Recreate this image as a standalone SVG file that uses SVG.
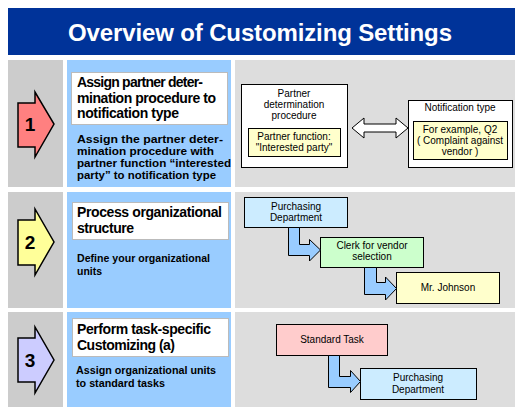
<svg xmlns="http://www.w3.org/2000/svg" width="527" height="407" viewBox="0 0 527 407">
<style>
.lg{fill:#CCCCCC}
.bl{fill:#99CCFF}
.rg{fill:#DDDDDD}
.wb{fill:#FFFFFF;stroke:#BBBBBB;stroke-width:1}
.arr{stroke:#000;stroke-width:1.5;stroke-linejoin:miter}
.n{font-family:"Liberation Sans",Arial,sans-serif;font-weight:bold;font-size:19px;fill:#000;text-anchor:middle}
.h{font-family:"Liberation Sans",Arial,sans-serif;font-weight:bold;font-size:14px;fill:#000}
.d{font-family:"Liberation Sans",Arial,sans-serif;font-weight:bold;font-size:11px;fill:#000}
.s{font-family:"Liberation Sans",Arial,sans-serif;font-size:10px;fill:#000;text-anchor:middle}
.box{stroke:#000;stroke-width:1}
.con{fill:#99CCFF;stroke:#000;stroke-width:1}
</style>
<rect x="0" y="0" width="527" height="407" fill="#FFFFFF"/>
<g id="title">
<rect x="8" y="8" width="507" height="47" fill="#003399"/>
<text x="260" y="41" font-family="'Liberation Sans',Arial,sans-serif" font-weight="bold" font-size="24" fill="#FFFFFF" text-anchor="middle" textLength="384" lengthAdjust="spacing">Overview of Customizing Settings</text>
</g>
<g id="row1">
<rect class="lg" x="8" y="60" width="55" height="127"/>
<rect class="bl" x="67" y="60" width="164" height="127"/>
<rect class="rg" x="235" y="60" width="280" height="127"/>
</g>
<g id="row2">
<rect class="lg" x="8" y="192" width="55" height="116"/>
<rect class="bl" x="67" y="192" width="164" height="116"/>
<rect class="rg" x="235" y="192" width="280" height="116"/>
</g>
<g id="row3">
<rect class="lg" x="8" y="312" width="55" height="95"/>
<rect class="bl" x="67" y="312" width="164" height="95"/>
<rect class="rg" x="235" y="312" width="280" height="95"/>
</g>
<g id="step1">
<polygon class="arr" fill="#FF8080" points="18,103 35,103 35,92 54,124 35,157 35,147 18,147"/>
<text class="n" x="30" y="131">1</text>
</g>
<g id="step2">
<polygon class="arr" fill="#FFFF99" points="18,220 35,220 35,209 54,242 35,275 35,265 18,265"/>
<text class="n" x="30" y="249">2</text>
</g>
<g id="step3">
<polygon class="arr" fill="#CCCCFF" points="18,338 35,338 35,327 54,360 35,393 35,382 18,382"/>
<text class="n" x="30" y="367">3</text>
</g>
<g id="task1">
<rect class="wb" x="71.5" y="72.5" width="156" height="52"/>
<text class="h" x="77" y="87" textLength="126" lengthAdjust="spacing">Assign partner deter-</text>
<text class="h" x="77" y="103" textLength="139" lengthAdjust="spacing">mination procedure to</text>
<text class="h" x="77" y="118" textLength="102" lengthAdjust="spacing">notification type</text>
<text class="d" x="77" y="143" textLength="146" lengthAdjust="spacingAndGlyphs">Assign the partner deter-</text>
<text class="d" x="77" y="155" textLength="137" lengthAdjust="spacingAndGlyphs">mination procedure with</text>
<text class="d" x="77" y="167" textLength="154" lengthAdjust="spacingAndGlyphs">partner function “interested</text>
<text class="d" x="77" y="179" textLength="139" lengthAdjust="spacingAndGlyphs">party” to notification type</text>
</g>
<g id="task2">
<rect class="wb" x="72.5" y="202.5" width="156" height="37"/>
<text class="h" x="77" y="217" textLength="145" lengthAdjust="spacing">Process organizational</text>
<text class="h" x="77" y="233" textLength="57" lengthAdjust="spacing">structure</text>
<text class="d" x="77" y="262" textLength="133" lengthAdjust="spacingAndGlyphs">Define your organizational</text>
<text class="d" x="77" y="275" textLength="25" lengthAdjust="spacingAndGlyphs">units</text>
</g>
<g id="task3">
<rect class="wb" x="72.5" y="318.5" width="156" height="38"/>
<text class="h" x="77" y="334" textLength="134" lengthAdjust="spacing">Perform task-specific</text>
<text class="h" x="77" y="350" textLength="98" lengthAdjust="spacing">Customizing (a)</text>
<text class="d" x="76" y="374" textLength="140" lengthAdjust="spacingAndGlyphs">Assign organizational units</text>
<text class="d" x="76" y="387" textLength="89" lengthAdjust="spacingAndGlyphs">to standard tasks</text>
</g>
<g id="partner-determination">
<rect class="box" x="241.5" y="84.5" width="106" height="83" fill="#FFFFFF"/>
<text class="s" x="294" y="97">Partner</text>
<text class="s" x="294" y="108">determination</text>
<text class="s" x="294" y="119">procedure</text>
<rect class="box" x="248.5" y="128.5" width="92" height="28" fill="#FFFFCC"/>
<text class="s" x="294" y="140">Partner function:</text>
<text class="s" x="294" y="151">"Interested party"</text>
</g>
<g id="notification-type">
<rect class="box" x="408.5" y="100.5" width="104" height="67" fill="#FFFFFF"/>
<text class="s" x="460" y="111">Notification type</text>
<rect class="box" x="413.5" y="121.5" width="94" height="38" fill="#FFFFCC"/>
<text class="s" x="460" y="133">For example, Q2</text>
<text class="s" x="460" y="144">( Complaint against</text>
<text class="s" x="460" y="155">vendor )</text>
</g>
<g id="purchasing-dept-1">
<rect class="box" x="244.5" y="197.5" width="103" height="30" fill="#CCECFF"/>
<text class="s" x="296" y="210">Purchasing</text>
<text class="s" x="296" y="221">Department</text>
</g>
<g id="clerk">
<rect class="box" x="320.5" y="237.5" width="103" height="30" fill="#CCFFCC"/>
<text class="s" x="372" y="249">Clerk for vendor</text>
<text class="s" x="372" y="260">selection</text>
</g>
<g id="mr-johnson">
<rect class="box" x="396.5" y="272.5" width="103" height="31" fill="#FFFFCC"/>
<text class="s" x="448" y="291">Mr. Johnson</text>
</g>
<g id="standard-task">
<rect class="box" x="276.5" y="324.5" width="111" height="31" fill="#FFCCCC"/>
<text class="s" x="332" y="343">Standard Task</text>
</g>
<g id="purchasing-dept-2">
<rect class="box" x="360.5" y="368.5" width="116" height="31" fill="#CCECFF"/>
<text class="s" x="418" y="381">Purchasing</text>
<text class="s" x="418" y="393">Department</text>
</g>
<g id="connectors">
<polygon fill="#FFFFFF" stroke="#000" stroke-width="1" points="352,128 364,118 364,124 396,124 396,118 408,128 396,138 396,132 364,132 364,138"/>
<polygon class="con" points="288.5,227.5 299.5,227.5 299.5,244.5 309.5,244.5 309.5,239.5 320.5,250 309.5,261 309.5,255.5 288.5,255.5"/>
<polygon class="con" points="364.5,267.5 376.5,267.5 376.5,282.5 385.5,282.5 385.5,277 396.5,288.5 385.5,300 385.5,294.5 364.5,294.5"/>
<polygon class="con" points="328.5,355.5 339.5,355.5 339.5,376.5 350.5,376.5 350.5,370.5 360.5,381.5 350.5,392.5 350.5,387.5 328.5,387.5"/>
</g>
</svg>
